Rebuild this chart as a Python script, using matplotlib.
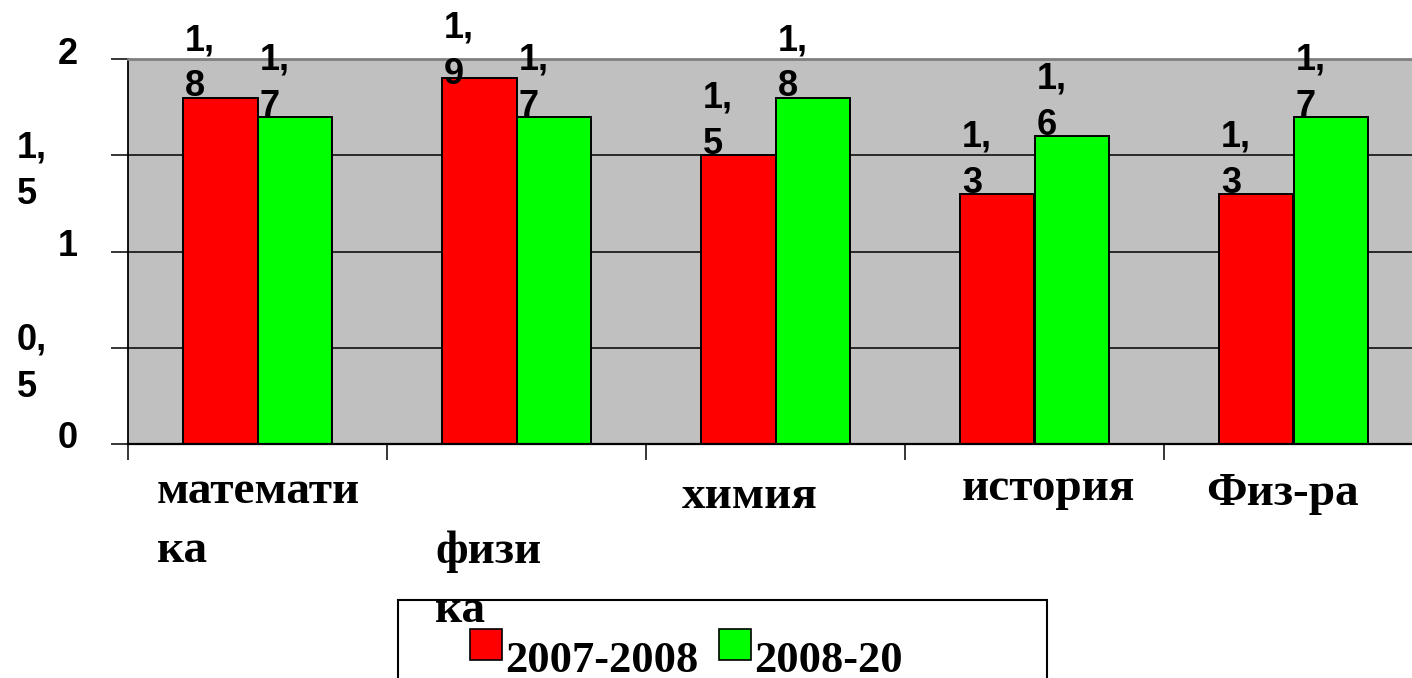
import matplotlib
matplotlib.use("Agg")
import matplotlib.pyplot as plt
from matplotlib.patches import Patch, Rectangle
from matplotlib.legend_handler import HandlerPatch
import numpy as np

# --- data -------------------------------------------------------------
categories = ["математика", "физика", "химия", "история", "Физ-ра"]
series_names = ["2007-2008", "2008-20"]
values_0708 = [1.8, 1.9, 1.5, 1.3, 1.3]
values_0809 = [1.7, 1.7, 1.8, 1.6, 1.7]
y_ticks = [0, 0.5, 1, 1.5, 2]
y_tick_labels = ["0", "0,\n5", "1", "1,\n5", "2"]

# --- layout / style ---------------------------------------------------
W, H = 1412, 678
RED, GREEN, PLOT_BG = "#FF0000", "#00FF00", "#C0C0C0"
SANS = ["Liberation Sans", "DejaVu Sans"]
SERIF = ["Liberation Serif", "DejaVu Serif"]
wrap_at = [8, 4, None, None, None]              # characters per wrapped line
cat_dx = [-101, -81, -94, -73, -87]             # label left edge from category centre (px)
cat_dy = [118, 178, 64, 56, 61]                 # last baseline below the axis (px)
bar_w = 0.288
label_ceiling = 1.865                           # data labels are kept below this height


def raised_square(legend, orig_handle, xdescent, ydescent, width, height, fontsize):
    # legend key sits a little higher than the text row
    return Rectangle((-xdescent, -ydescent + 9), width, height)


fig = plt.figure(figsize=(W / 100, H / 100), dpi=100)
ax = fig.add_axes([128 / W, (H - 444) / H, 1295 / W, 385 / H])
ax.set_facecolor(PLOT_BG)
ax.set_xlim(-0.5, len(categories) - 0.5)
ax.set_ylim(0, 2)

x = np.arange(len(categories))
ax.bar(x - bar_w / 2, values_0708, bar_w, color=RED, edgecolor="black",
       linewidth=1.4, zorder=2)
ax.bar(x + bar_w / 2, values_0809, bar_w, color=GREEN, edgecolor="black",
       linewidth=1.4, zorder=2)

# horizontal grid
for v in y_ticks[1:-1]:
    ax.axhline(v, color="black", linewidth=1.1, zorder=1)

ax.spines["right"].set_visible(False)
ax.spines["top"].set_color("#808080")
ax.spines["top"].set_linewidth(2.0)
ax.spines["left"].set_linewidth(1.3)
ax.spines["bottom"].set_linewidth(1.6)

ax.set_yticks(y_ticks)
ax.set_xticks(np.arange(len(categories) + 1) - 0.5)
ax.tick_params(axis="y", direction="out", length=12.2, width=1.1,
               labelleft=False)
ax.tick_params(axis="x", direction="out", length=11.5, width=1.1,
               labelbottom=False)

# y tick labels (wrapped ones sit lower and further left)
for v, lbl in zip(y_ticks, y_tick_labels):
    if "\n" in lbl:
        ax.annotate(lbl, xy=(0, v), xycoords=("axes fraction", "data"),
                    xytext=(17 - 128, -49), textcoords="offset pixels",
                    ha="left", va="baseline", fontsize=26, fontweight="bold",
                    family=SANS, linespacing=1.45, annotation_clip=False)
    else:
        ax.annotate(lbl, xy=(0, v), xycoords=("axes fraction", "data"),
                    xytext=(78 - 128, -4.5), textcoords="offset pixels",
                    ha="right", va="baseline", fontsize=26, fontweight="bold",
                    family=SANS, annotation_clip=False)

# value labels above each bar, wrapped after the decimal comma
for offs, vals in ((-bar_w, values_0708), (0.0, values_0809)):
    for xi, v in zip(x, vals):
        txt = f"{v:.1f}".replace(".", ",\n")
        ax.annotate(txt, xy=(xi + offs, min(v, label_ceiling)), xycoords="data",
                    xytext=(2, 1), textcoords="offset pixels",
                    ha="left", va="baseline", fontsize=26, fontweight="bold",
                    family=SANS, linespacing=1.42, annotation_clip=False,
                    zorder=3)

# category labels, wrapped like narrow text boxes
for i, name in enumerate(categories):
    n = wrap_at[i]
    shown = name if n is None else "\n".join(name[j:j + n] for j in range(0, len(name), n))
    ax.annotate(shown, xy=(i, 0), xycoords="data",
                xytext=(cat_dx[i], -cat_dy[i]), textcoords="offset pixels",
                ha="left", va="baseline", fontsize=34, fontweight="bold",
                family=SERIF, linespacing=1.53, annotation_clip=False, zorder=5)

# legend with its own frame
fig.add_artist(Rectangle((398 / W, -0.2), (1047 - 398) / W, (H - 600) / H + 0.2,
                         transform=fig.transFigure, fill=False,
                         edgecolor="black", linewidth=1.5, zorder=4))
handles = [Patch(facecolor=RED, edgecolor="black", linewidth=1.2),
           Patch(facecolor=GREEN, edgecolor="black", linewidth=1.2)]
leg = fig.legend(handles, series_names, loc="upper left",
                 bbox_to_anchor=(470 / W, 1 - 641 / H), frameon=False, ncol=2,
                 handlelength=0.72, handleheight=0.72, handletextpad=0.08,
                 columnspacing=0.45, borderpad=0, borderaxespad=0,
                 handler_map={Patch: HandlerPatch(patch_func=raised_square)},
                 prop={"family": SERIF, "weight": "bold", "size": 32})

fig.savefig("out.png", dpi=100)
